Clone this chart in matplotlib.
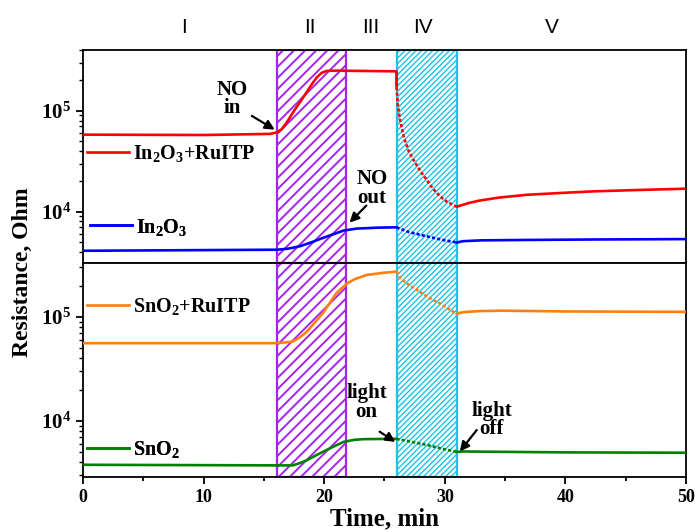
import matplotlib
matplotlib.use("Agg")
import matplotlib.pyplot as plt
import numpy as np
from matplotlib.lines import Line2D
from matplotlib.ticker import LogLocator, MultipleLocator, NullFormatter

plt.rcParams["font.family"] = "Liberation Serif"
plt.rcParams["font.weight"] = "bold"
plt.rcParams["mathtext.fontset"] = "custom"
plt.rcParams["mathtext.rm"] = "Liberation Serif:bold"
plt.rcParams["mathtext.it"] = "Liberation Serif:bold:italic"
plt.rcParams["mathtext.bf"] = "Liberation Serif:bold"

# ---- data ----
t_red = [0, 10, 15.5, 16.1, 16.5, 17.0, 17.5, 18.0, 18.5, 19.0, 19.4, 19.8, 20.2, 21.0, 21.9, 25.9, 26.0, 26.0,
         26.1, 26.3, 26.6, 27.0, 27.4, 28.0, 28.5, 29.0, 29.6, 30.2, 31.0,
         31.5, 32.0, 32.9, 34.5, 36.8, 39.5, 42.3, 46, 50]
r_red = [5.8e4, 5.75e4, 5.9e4, 6.1e4, 6.6e4, 8.0e4, 1.0e5, 1.22e5, 1.5e5, 1.85e5, 2.15e5, 2.38e5, 2.48e5, 2.5e5,
         2.49e5, 2.46e5, 2.45e5, 1.75e5,
         1.15e5, 8.0e4, 5.5e4, 4.0e4, 3.27e4, 2.5e4, 2.07e4, 1.7e4, 1.42e4, 1.25e4, 1.12e4,
         1.17e4, 1.22e4, 1.29e4, 1.38e4, 1.47e4, 1.53e4, 1.59e4, 1.64e4, 1.69e4]

t_blue = [0, 16.1, 17.0, 18.0, 19.0, 19.9, 20.8, 21.6, 22.7, 24.5, 26.0,
          27.0, 28.5, 30.0, 31.0, 31.5, 33, 37, 42, 50]
r_blue = [4.1e3, 4.2e3, 4.3e3, 4.55e3, 5.0e3, 5.5e3, 6.0e3, 6.5e3, 6.8e3, 6.95e3, 7.0e3,
          6.3e3, 5.7e3, 5.2e3, 4.95e3, 5.1e3, 5.2e3, 5.25e3, 5.3e3, 5.35e3]

t_orange = [0, 16.1, 17.4, 18.0, 18.55, 19.2, 19.9, 20.5, 21.0, 21.9, 22.5, 23.5, 24.8, 26.0,
            26.3, 27.0, 27.7, 28.6, 29.6, 30.3, 31.0, 31.3, 31.8, 33, 34.8, 40, 50]
r_orange = [5.6e4, 5.6e4, 5.8e4, 6.4e4, 7.2e4, 8.8e4, 1.09e5, 1.38e5, 1.69e5, 2.1e5, 2.3e5, 2.53e5, 2.65e5, 2.73e5,
            2.36e5, 2.05e5, 1.82e5, 1.55e5, 1.35e5, 1.2e5, 1.07e5, 1.1e5, 1.12e5, 1.14e5, 1.15e5, 1.13e5, 1.12e5]

t_green = [0, 16.1, 17.4, 18.0, 18.55, 19.2, 19.9, 20.8, 21.6, 22.5, 23.3, 26.0,
           27.0, 28.5, 30.0, 31.0, 31.5, 33, 40, 50]
r_green = [3.8e3, 3.75e3, 3.75e3, 3.95e3, 4.2e3, 4.6e3, 5.07e3, 5.7e3, 6.3e3, 6.6e3, 6.7e3, 6.75e3,
           6.4e3, 5.9e3, 5.35e3, 5.05e3, 5.1e3, 5.08e3, 5.0e3, 4.96e3]

no_span = (16.1, 21.8)      # stage II
light_span = (26.0, 31.05)  # stage IV
stage_names = ["I", "II", "III", "IV", "V"]
stage_x = [8.4, 18.8, 23.9, 28.2, 38.9]

C_PURPLE = "#A623F2"
C_CYAN = "#1CC3E6"


def draw_curve(ax, t, r, color):
    t = np.asarray(t)
    r = np.asarray(r)
    a, b = light_span[0], 31.0
    m1 = t <= a
    m2 = (t >= a) & (t <= b)
    m3 = t >= b
    ax.plot(t[m1], r[m1], color=color, lw=1.9, zorder=3)
    ax.plot(t[m2], r[m2], color=color, lw=1.9, ls=(0, (1.2, 0.8)), zorder=3)
    ax.plot(t[m3], r[m3], color=color, lw=1.9, zorder=3)


def spans(ax):
    plt.rcParams["hatch.linewidth"] = 1.4
    ax.axvspan(*no_span, facecolor="none", edgecolor=C_PURPLE, hatch="///", lw=1.6, zorder=1)
    plt.rcParams["hatch.linewidth"] = 1.0
    ax.axvspan(*light_span, facecolor="none", edgecolor=C_CYAN, hatch="//////", lw=1.6, zorder=1)


def tag(ax, color, text, x0, y0):
    h = Line2D([], [], color=color, lw=1.9)
    leg = ax.legend([h], [text], loc="center left", bbox_to_anchor=(x0, y0),
                    frameon=False, fontsize=14.5, handlelength=2.1, handletextpad=0.2,
                    borderpad=0, borderaxespad=0)
    ax.add_artist(leg)


def arrow(ax, tail, head):
    ax.annotate("", xy=head, xytext=tail,
                arrowprops=dict(arrowstyle="-|>", color="black", lw=1.6, mutation_scale=14,
                                shrinkA=0, shrinkB=0), zorder=5)


fig = plt.figure(figsize=(6.95, 5.32), dpi=100)
ax1 = fig.add_axes([0.1194, 0.5056, 0.8676, 0.4004])
ax2 = fig.add_axes([0.1194, 0.1034, 0.8676, 0.4022], sharex=ax1)

for ax in (ax1, ax2):
    ax.set_yscale("log")
    spans(ax)
    for s in ax.spines.values():
        s.set_linewidth(1.3)
    ax.yaxis.set_major_locator(LogLocator(base=10))
    ax.yaxis.set_minor_locator(LogLocator(base=10, subs=np.arange(2, 10)))
    ax.yaxis.set_minor_formatter(NullFormatter())
    ax.tick_params(axis="y", which="major", direction="out", length=5, width=1.3, labelsize=15, right=False)
    ax.tick_params(axis="y", which="minor", direction="out", length=3, width=1.0, right=False)

draw_curve(ax1, t_red, r_red, "#FF0000")
draw_curve(ax1, t_blue, r_blue, "#0000FF")
draw_curve(ax2, t_orange, r_orange, "#FF7F0E")
draw_curve(ax2, t_green, r_green, "#008000")

ax1.set_ylim(3.1e3, 4.0e5)
ax2.set_ylim(2.9e3, 3.3e5)
ax1.set_xlim(0, 50)

ax1.tick_params(axis="x", which="both", bottom=False, top=False, labelbottom=False)
ax2.xaxis.set_major_locator(MultipleLocator(10))
ax2.xaxis.set_minor_locator(MultipleLocator(5))
ax2.tick_params(axis="x", which="major", direction="out", length=5, width=1.3, labelsize=13, top=False)
ax2.tick_params(axis="x", which="minor", direction="out", length=3, width=1.3, top=False)
ax2.set_xlabel("Time, min", fontsize=18, fontweight="bold", labelpad=1)
fig.text(0.032, 1 - 272 / 532, "Resistance, Ohm", rotation=90, ha="center", va="center",
         fontsize=17, fontweight="bold")

# stage labels
for name, x in zip(stage_names, stage_x):
    ax1.text(x, 1.108, name, transform=ax1.get_xaxis_transform(), ha="center", va="center",
             fontsize=15, family="Liberation Sans", fontweight="normal")

# curve tags
tag(ax1, "#FF0000", "In$_2$O$_3$+RuITP", 0.0066, 0.512)
tag(ax1, "#0000FF", "In$_2$O$_3$", 0.0116, 0.169)
tag(ax2, "#FF7F0E", "SnO$_2$+RuITP", 0.0066, 0.796)
tag(ax2, "#008000", "SnO$_2$", 0.0066, 0.129)

# annotations
ax1.text(12.35, 1.31e5, "NO\nin", ha="center", va="center", fontsize=15, linespacing=0.9)
arrow(ax1, (14.0, 8.9e4), (15.9, 6.5e4))
ax1.text(23.96, 1.69e4, "NO\nout", ha="center", va="center", fontsize=15, linespacing=0.9)
arrow(ax1, (23.5, 1.15e4), (22.1, 7.8e3))
ax2.text(23.52, 1.5e4, "light\non", ha="center", va="center", fontsize=15, linespacing=0.9)
arrow(ax2, (24.6, 7.9e3), (25.9, 6.3e3))
ax2.text(33.9, 1.02e4, "light\noff", ha="center", va="center", fontsize=15, linespacing=0.9)
arrow(ax2, (32.65, 8.2e3), (31.25, 5.1e3))

fig.savefig("out.png", dpi=100, facecolor="white")
